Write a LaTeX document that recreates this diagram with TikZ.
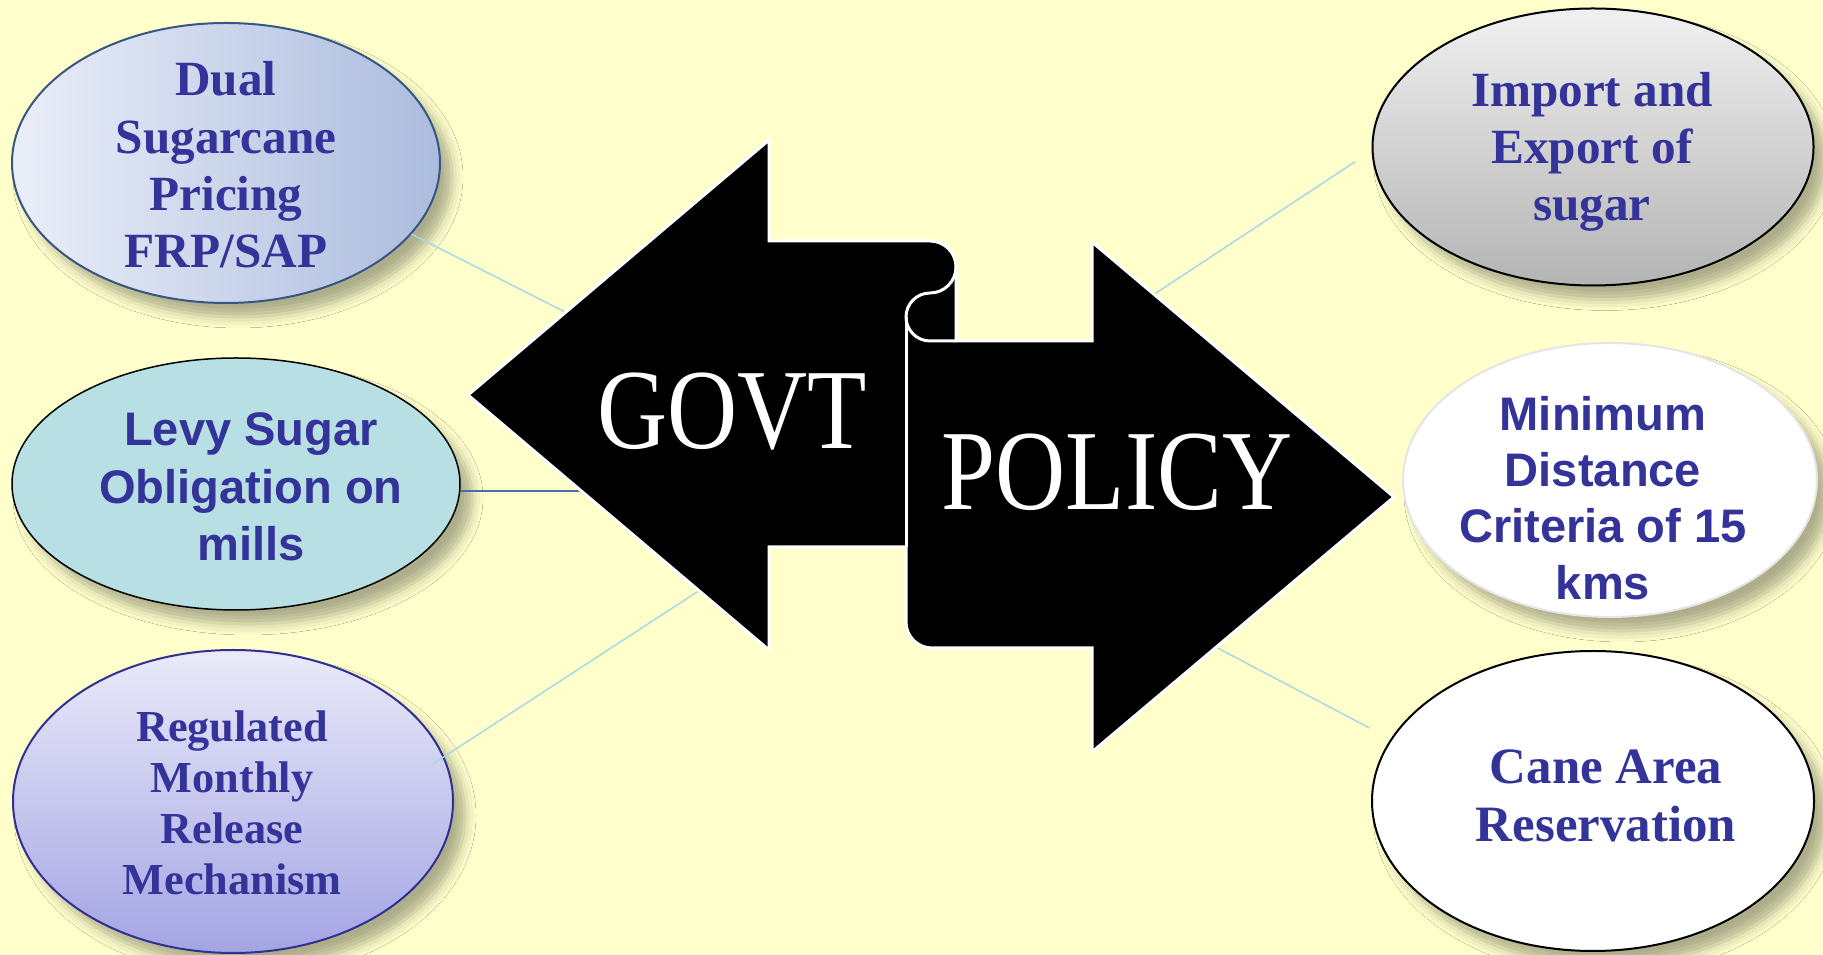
\documentclass[tikz,border=0pt]{standalone}
\usepackage{fontspec}
\setmainfont{Liberation Serif}
\newfontfamily\arialbold{Liberation Sans}
\newfontfamily\signfont[FakeStretch=0.85]{Liberation Serif}
\usetikzlibrary{shapes.geometric,shadows.blur}
\definecolor{paper}{RGB}{255,255,204}
\definecolor{inkblue}{RGB}{51,51,153}
\definecolor{linkblue}{RGB}{168,216,228}
\definecolor{steel}{RGB}{74,111,165}
\definecolor{dualL}{RGB}{234,238,248}
\definecolor{dualR}{RGB}{172,188,222}
\definecolor{dualedge}{RGB}{56,86,130}
\definecolor{levyfill}{RGB}{184,223,227}
\definecolor{regtop}{RGB}{234,234,250}
\definecolor{regbot}{RGB}{164,164,228}
\definecolor{regedge}{RGB}{46,49,146}
\definecolor{imptop}{RGB}{240,240,240}
\definecolor{impbot}{RGB}{180,180,180}
\begin{document}
\begin{tikzpicture}[x=0.1mm,y=0.1mm,
  blob/.style={ellipse,inner sep=0pt,line width=0.2mm,
    blur shadow={shadow xshift=1.2mm,shadow yshift=-1.4mm,shadow blur radius=1.1mm,shadow opacity=32}},
  serifbold/.style={inner sep=0pt,align=center,text=inkblue,font=\bfseries\fontsize{14}{16.3}\selectfont},
  sansbold/.style={inner sep=0pt,align=center,text=inkblue,font=\arialbold\bfseries\fontsize{13.4}{16.3}\selectfont},
  link/.style={draw=linkblue,line width=0.15mm},
  sign/.style={inner sep=0pt,text=white,font=\signfont\fontsize{32.5}{36}\selectfont}]
\fill[paper] (0,0) rectangle (1823,955);
\useasboundingbox (0,0) rectangle (1823,955);
% left column
\node[blob,draw=dualedge,left color=dualL,right color=dualR,minimum width=42.8mm,minimum height=28mm] (dual) at (226,792) {};
\node[serifbold] (dualtxt) at (226,790) {Dual\\Sugarcane\\Pricing\\FRP/SAP};
\node[blob,draw=black,line width=0.15mm,fill=levyfill,minimum width=44.8mm,minimum height=25.2mm] (levy) at (236,471) {};
\node[sansbold] (levytxt) at (251,468) {Levy Sugar\\Obligation on\\mills};
\node[blob,draw=regedge,top color=regtop,bottom color=regbot,minimum width=44mm,minimum height=30.3mm] (reg) at (233,153.5) {};
\node[serifbold,font=\bfseries\fontsize{12.6}{14.5}\selectfont] (regtxt) at (232,152) {Regulated\\Monthly\\Release\\Mechanism};
% right column
\node[blob,draw=black,top color=imptop,bottom color=impbot,minimum width=44.1mm,minimum height=27.7mm] (imp) at (1593,808) {};
\node[serifbold] (imptxt) at (1592,803) {Import and\\Export of\\sugar};
\node[blob,draw=black!10,fill=white,minimum width=41.4mm,minimum height=27.4mm] (mind) at (1610,475) {};
\node[sansbold,font=\arialbold\bfseries\fontsize{13.4}{16}\selectfont] (mindtxt) at (1603,457) {Minimum\\Distance\\Criteria of 15\\kms};
\node[blob,draw=black,fill=white,minimum width=44.2mm,minimum height=30mm] (cane) at (1593,154) {};
\node[serifbold,font=\bfseries\fontsize{14.5}{16.5}\selectfont] (canetxt) at (1606,159) {Cane Area\\Reservation};
% ends of the links, hidden under the arrows
\coordinate (pinDual) at (640,605);
\coordinate (pinLevy) at (640,464);
\coordinate (pinReg) at (760,404);
\coordinate (pinImp) at (1100,625);
\coordinate (pinCane) at (1100,369);
\draw[link] (dual.-21) -- (pinDual);
\draw[draw=steel,line width=0.2mm] (levy.east |- pinLevy) -- (pinLevy);
\draw[link,shorten <=-1.5mm] (reg.12) -- (pinReg);
\draw[link,shorten >=2mm] (pinImp) -- (imp.181);
\draw[link,shorten >=2.4mm] (pinCane) -- (cane.163);
% double arrow with the scroll curl
\filldraw[fill=black,draw=white,line width=0.3mm,line join=miter]
  (468,560) -- (769,815) -- (769,714) -- (930,714)
  arc[start angle=90,end angle=0,radius=2.6mm] -- (956,614) -- (1092,614)
  -- (1092,713) -- (1394,458) -- (1092,203) -- (1092,307) -- (932,307)
  arc[start angle=270,end angle=180,radius=2.6mm] -- (906,408) -- (769,408)
  -- (769,305) -- cycle;
\draw[white,line width=0.3mm] (956,688) arc[start angle=0,end angle=-90,radius=2.6mm]
  arc[start angle=90,end angle=270,radius=2.4mm] -- (956,614);
\draw[white,line width=0.3mm] (906,638) -- (906,408);
\node[sign] (govt) at (732,543) {GOVT};
\node[sign] (policy) at (1117,483) {POLICY};
\end{tikzpicture}
\end{document}
